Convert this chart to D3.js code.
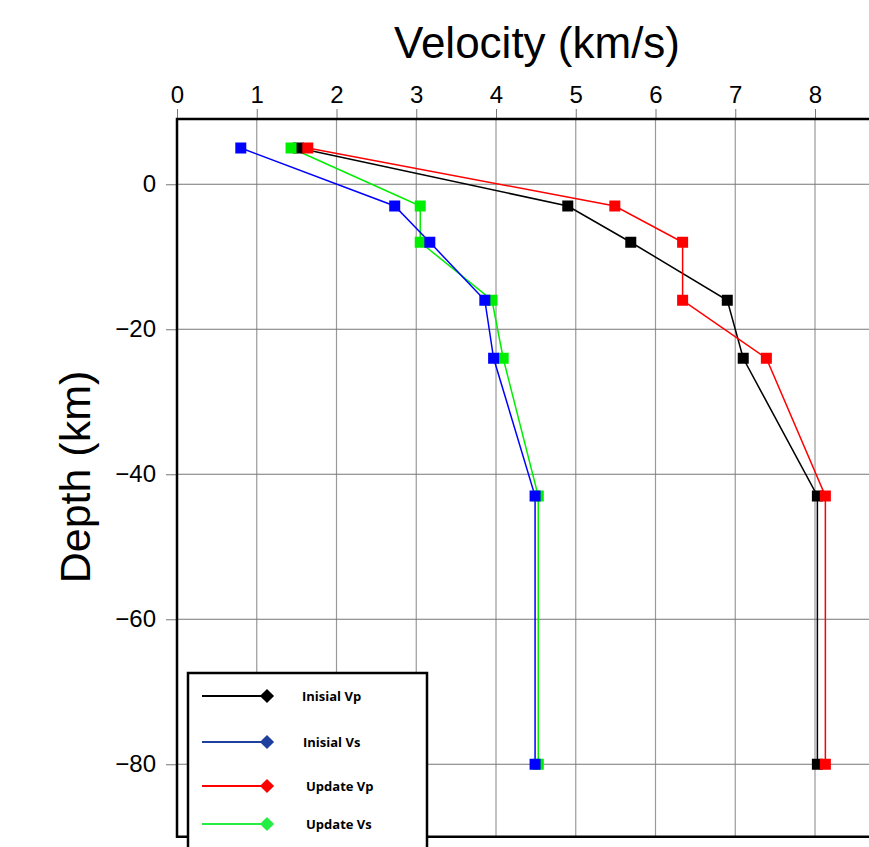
<!DOCTYPE html>
<html>
<head>
<meta charset="utf-8">
<script src="https://cdn.jsdelivr.net/npm/d3@7"></script>
<style>
  body { margin: 0; background: #fff; }
  svg { display: block; }
</style>
</head>
<body>
<div id="chart"></div>
<script>
// depth (km) of each layer point
const depths = [5, -3, -8, -16, -24, -43, -80]

// velocities (km/s) per series
const initialVp = [1.52, 4.90, 5.69, 6.90, 7.10, 8.03, 8.03]
const initialVs = [0.80, 2.73, 3.17, 3.86, 3.97, 4.49, 4.49]
const updateVp = [1.64, 5.49, 6.34, 6.34, 7.39, 8.13, 8.13]
const updateVs = [1.43, 3.05, 3.05, 3.95, 4.09, 4.53, 4.53]

const xTicks = [0, 1, 2, 3, 4, 5, 6, 7, 8]
const yTicks = [0, -20, -40, -60, -80]

const series = [
  { name: 'Inisial Vp', values: initialVp, color: '#000000', legendColor: '#000000' },
  { name: 'Inisial Vs', values: initialVs, color: '#0000ff', legendColor: '#1f3f9f' },
  { name: 'Update Vp', values: updateVp, color: '#ff0000', legendColor: '#ff0000' },
  { name: 'Update Vs', values: updateVs, color: '#00ee00', legendColor: '#22ee44' }
]
// draw order: black, red, green, blue on top
const drawOrder = [0, 2, 3, 1]

const width = 869
const height = 847
const plotLeft = 177
const plotTop = 119

const x = d3.scaleLinear().domain([0, 9]).range([plotLeft, plotLeft + 9 * 79.75])
const y = d3.scaleLinear().domain([9, -90]).range([plotTop, plotTop + 99 * 7.25])

const svg = d3.select('#chart').append('svg')
  .attr('width', width)
  .attr('height', height)
  .style('font-family', '"Liberation Sans", Arial, sans-serif')

// grid
svg.append('g')
  .selectAll('line')
  .data(xTicks.slice(1))
  .enter().append('line')
  .attr('x1', d => x(d)).attr('x2', d => x(d))
  .attr('y1', y(9)).attr('y2', y(-90))
  .attr('stroke', '#999').attr('stroke-width', 1.2)

svg.append('g')
  .selectAll('line')
  .data(yTicks)
  .enter().append('line')
  .attr('x1', x(0)).attr('x2', x(9))
  .attr('y1', d => y(d)).attr('y2', d => y(d))
  .attr('stroke', '#777').attr('stroke-width', 1)

// axes
const xAxis = svg.append('g')
  .attr('transform', `translate(0,${y(9)})`)
  .call(d3.axisTop(x).tickValues(xTicks).tickSize(10).tickPadding(6).tickFormat(d3.format('d')))
xAxis.select('.domain').remove()
xAxis.selectAll('line').attr('stroke', '#777')
xAxis.selectAll('text').attr('font-size', 24).attr('fill', '#000').attr('font-family', '"Liberation Sans", Arial, sans-serif')

const yAxis = svg.append('g')
  .attr('transform', `translate(${x(0)},0)`)
  .call(d3.axisLeft(y).tickValues(yTicks).tickSize(11).tickPadding(10).tickFormat(d => d3.format('d')(d).replace('-', '−')))
yAxis.select('.domain').remove()
yAxis.selectAll('line').attr('stroke', '#777')
yAxis.selectAll('text').attr('font-size', 24).attr('fill', '#000').attr('font-family', '"Liberation Sans", Arial, sans-serif')

// frame
svg.append('rect')
  .attr('x', x(0)).attr('y', y(9))
  .attr('width', x(9) - x(0)).attr('height', y(-90) - y(9))
  .attr('fill', 'none').attr('stroke', '#000').attr('stroke-width', 2.5)

// titles
svg.append('text')
  .attr('x', 537).attr('y', 58)
  .attr('text-anchor', 'middle')
  .attr('font-size', 44)
  .text('Velocity (km/s)')

svg.append('text')
  .attr('transform', `translate(90,${477}) rotate(-90)`)
  .attr('text-anchor', 'middle')
  .attr('font-size', 43)
  .text('Depth (km)')

// series
const line = d3.line().x(d => x(d[0])).y(d => y(d[1]))
const size = 11

drawOrder.forEach(i => {
  const s = series[i]
  const pts = s.values.map((v, k) => [v, depths[k]])
  svg.append('path')
    .datum(pts)
    .attr('d', line)
    .attr('fill', 'none')
    .attr('stroke', s.color)
    .attr('stroke-width', 1.5)
})
drawOrder.forEach(i => {
  const s = series[i]
  const pts = s.values.map((v, k) => [v, depths[k]])
  svg.append('g')
    .selectAll('rect')
    .data(pts)
    .enter().append('rect')
    .attr('x', d => x(d[0]) - size / 2)
    .attr('y', d => y(d[1]) - size / 2)
    .attr('width', size).attr('height', size)
    .attr('fill', s.color)
})

// legend
const legend = svg.append('g')
legend.append('rect')
  .attr('x', 188).attr('y', 673)
  .attr('width', 239).attr('height', 190)
  .attr('fill', '#fff').attr('stroke', '#000').attr('stroke-width', 2.5)

const legendY = [696, 742, 786, 824]
const textX = [302, 303, 306, 306]
series.forEach((s, i) => {
  const g = legend.append('g').attr('transform', `translate(0,${legendY[i]})`)
  g.append('line')
    .attr('x1', 202).attr('x2', 262)
    .attr('y1', 0).attr('y2', 0)
    .attr('stroke', s.legendColor).attr('stroke-width', 2)
  g.append('path')
    .attr('d', d3.symbol(d3.symbolSquare, 100)())
    .attr('transform', 'translate(267,0) rotate(45)')
    .attr('fill', s.legendColor)
  g.append('text')
    .attr('x', textX[i]).attr('y', 5)
    .attr('font-family', '"Open Sans", Lato, sans-serif')
    .attr('font-weight', 'bold')
    .attr('font-size', 13)
    .text(s.name)
})
</script>
</body>
</html>
